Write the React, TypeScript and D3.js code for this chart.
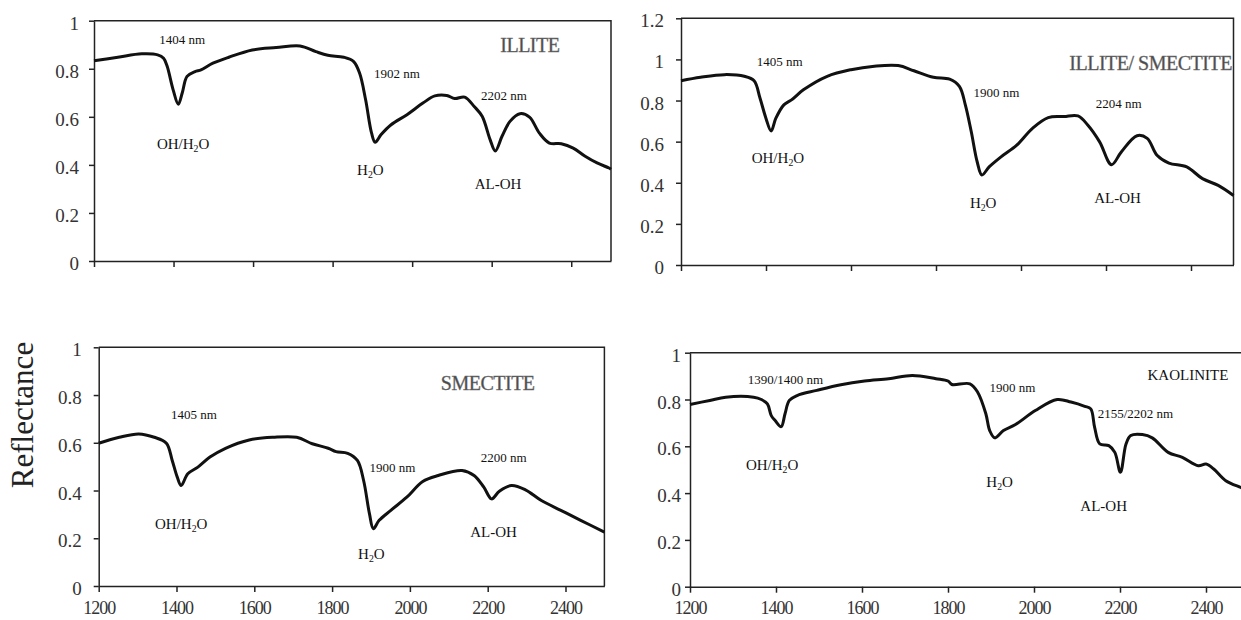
import { useEffect, useRef } from 'react'
import * as d3 from 'd3'

// Reflectance spectra of four clay minerals

const illiteWl = [1200, 1260, 1320, 1360, 1375, 1384, 1399, 1412, 1422, 1434, 1454, 1469, 1499, 1539, 1598, 1658, 1718, 1758, 1788, 1828, 1853, 1868, 1883, 1898, 1907, 1922, 1947, 1987, 2027, 2057, 2087, 2107, 2132, 2156, 2176, 2196, 2209, 2226, 2246, 2271, 2295, 2320, 2345, 2375, 2405, 2435, 2465, 2495, 2500]
const illiteR = [0.833, 0.848, 0.862, 0.858, 0.844, 0.81, 0.712, 0.652, 0.7, 0.768, 0.788, 0.795, 0.823, 0.848, 0.878, 0.888, 0.895, 0.871, 0.856, 0.848, 0.83, 0.781, 0.671, 0.532, 0.494, 0.526, 0.567, 0.609, 0.657, 0.687, 0.689, 0.676, 0.682, 0.643, 0.602, 0.505, 0.458, 0.519, 0.581, 0.613, 0.599, 0.532, 0.491, 0.488, 0.47, 0.436, 0.408, 0.387, 0.382]

const illSmeWl = [1200, 1246, 1302, 1349, 1372, 1386, 1400, 1412, 1423, 1442, 1460, 1488, 1544, 1600, 1655, 1711, 1748, 1794, 1832, 1855, 1869, 1883, 1897, 1908, 1925, 1953, 1990, 2027, 2064, 2101, 2134, 2157, 2185, 2213, 2236, 2273, 2297, 2320, 2348, 2390, 2427, 2464, 2500]
const illSmeR = [0.896, 0.913, 0.926, 0.918, 0.896, 0.811, 0.713, 0.652, 0.713, 0.779, 0.803, 0.852, 0.918, 0.95, 0.967, 0.97, 0.945, 0.913, 0.904, 0.869, 0.779, 0.648, 0.501, 0.438, 0.477, 0.526, 0.583, 0.665, 0.717, 0.722, 0.725, 0.681, 0.599, 0.488, 0.55, 0.629, 0.616, 0.534, 0.496, 0.477, 0.42, 0.387, 0.338]

const smectiteWl = [1200, 1253, 1303, 1343, 1374, 1389, 1402, 1412, 1429, 1455, 1486, 1526, 1587, 1648, 1709, 1749, 1790, 1810, 1840, 1865, 1881, 1896, 1906, 1921, 1951, 1992, 2033, 2073, 2134, 2165, 2190, 2210, 2230, 2261, 2297, 2338, 2388, 2439, 2500]
const smectiteR = [0.598, 0.623, 0.637, 0.623, 0.598, 0.526, 0.456, 0.421, 0.47, 0.498, 0.54, 0.577, 0.612, 0.623, 0.623, 0.596, 0.577, 0.563, 0.556, 0.526, 0.442, 0.303, 0.24, 0.275, 0.317, 0.372, 0.438, 0.463, 0.484, 0.463, 0.414, 0.365, 0.397, 0.421, 0.403, 0.358, 0.317, 0.275, 0.226]

const kaoliniteWl = [1200, 1246, 1283, 1348, 1366, 1380, 1389, 1398, 1412, 1421, 1431, 1449, 1495, 1551, 1606, 1662, 1717, 1772, 1800, 1809, 1851, 1869, 1888, 1897, 1909, 1929, 1957, 2003, 2054, 2086, 2118, 2132, 2141, 2153, 2174, 2188, 2201, 2214, 2225, 2252, 2275, 2312, 2345, 2382, 2400, 2418, 2446, 2481, 2500]
const kaoliniteR = [0.779, 0.796, 0.81, 0.81, 0.8, 0.781, 0.731, 0.71, 0.684, 0.739, 0.796, 0.817, 0.839, 0.863, 0.879, 0.889, 0.903, 0.889, 0.879, 0.864, 0.867, 0.831, 0.739, 0.667, 0.636, 0.667, 0.693, 0.753, 0.8, 0.789, 0.771, 0.76, 0.681, 0.61, 0.603, 0.574, 0.489, 0.61, 0.646, 0.65, 0.636, 0.574, 0.553, 0.517, 0.524, 0.503, 0.453, 0.424, 0.41]

const xTicks = [1200, 1400, 1600, 1800, 2000, 2200, 2400]
const yTicks = [0, 0.2, 0.4, 0.6, 0.8, 1]
const yTicksWide = [0, 0.2, 0.4, 0.6, 0.8, 1, 1.2]

// annotations: [text, wavelength, reflectance, kind]
type Note = [string, number, number, 'nm' | 'chem' | 'title' | 'small']
const illiteNotes: Note[] = [
  ['1404 nm', 1422, 0.92, 'nm'], ['1902 nm', 1962, 0.779, 'nm'], ['2202 nm', 2231, 0.689, 'nm'],
  ['OH/H₂O', 1424, 0.487, 'chem'], ['H₂O', 1895, 0.378, 'chem'], ['AL-OH', 2216, 0.321, 'chem'],
  ['ILLITE', 2296, 0.899, 'title'],
]
const illSmeNotes: Note[] = [
  ['1405 nm', 1432, 0.988, 'nm'], ['1900 nm', 1942, 0.841, 'nm'], ['2204 nm', 2230, 0.787, 'nm'],
  ['OH/H₂O', 1428, 0.521, 'chem'], ['H₂O', 1911, 0.305, 'chem'], ['AL-OH', 2227, 0.325, 'chem'],
  ['ILLITE/ SMECTITE', 2305, 0.983, 'title'],
]
const smectiteNotes: Note[] = [
  ['1405 nm', 1445, 0.718, 'nm'], ['1900 nm', 1955, 0.498, 'nm'], ['2200 nm', 2241, 0.54, 'nm'],
  ['OH/H₂O', 1412, 0.261, 'chem'], ['H₂O', 1901, 0.135, 'chem'], ['AL-OH', 2215, 0.226, 'chem'],
  ['SMECTITE', 2200, 0.851, 'title'],
]
const kaoliniteNotes: Note[] = [
  ['1390/1400 nm', 1422, 0.886, 'nm'], ['1900 nm', 1950, 0.853, 'nm'], ['2155/2202 nm', 2236, 0.741, 'nm'],
  ['OH/H₂O', 1391, 0.521, 'chem'], ['H₂O', 1920, 0.45, 'chem'], ['AL-OH', 2162, 0.346, 'chem'],
  ['KAOLINITE', 2358, 0.906, 'small'],
]

const panels = [
  { wl: illiteWl, r: illiteR, notes: illiteNotes, yTicks, yMax: 1, x0: 94, x1: 611, top: 20.7, bottom: 261, yPad: 10, showX: false },
  { wl: illSmeWl, r: illSmeR, notes: illSmeNotes, yTicks: yTicksWide, yMax: 1.2, x0: 681, x1: 1233.5, top: 18.3, bottom: 265, yPad: 12, showX: false },
  { wl: smectiteWl, r: smectiteR, notes: smectiteNotes, yTicks, yMax: 1, x0: 98.7, x1: 604.4, top: 347.3, bottom: 586, yPad: 12, showX: true },
  { wl: kaoliniteWl, r: kaoliniteR, notes: kaoliniteNotes, yTicks, yMax: 1, x0: 690, x1: 1249, top: 352.7, bottom: 586.7, yPad: 4, showX: true },
]

const FONT = '"Liberation Serif", "Times New Roman", serif'

export default function App() {
  const svgRef = useRef<SVGSVGElement>(null)

  useEffect(() => {
    if (!svgRef.current) return
    const svg = d3.select(svgRef.current)
    svg.selectAll('*').remove()

    panels.forEach(p => {
      const x = d3.scaleLinear().domain([1200, 2500]).range([p.x0, p.x1])
      const y = d3.scaleLinear().domain([0, p.yMax]).range([p.bottom, p.top])
      const g = svg.append('g')

      // plot area frame (top + right)
      g.append('path')
        .attr('d', `M${p.x0},${p.top}H${p.x1}V${p.bottom}`)
        .attr('fill', 'none')
        .attr('stroke', '#222')
        .attr('stroke-width', 1.5)

      // y axis
      g.append('g')
        .attr('transform', `translate(${p.x0},0)`)
        .call(d3.axisLeft(y).tickValues(p.yTicks).tickSize(5).tickSizeOuter(0)
          .tickPadding(p.yPad).tickFormat(d => String(d)))
        .call(ax => {
          ax.attr('font-family', FONT)
          ax.selectAll('text').attr('fill', '#333').attr('font-size', '19px')
            .attr('font-family', FONT).attr('dy', '0.45em')
          ax.selectAll('line, path').attr('stroke', '#222').attr('stroke-width', 1.5)
        })

      // x axis
      g.append('g')
        .attr('transform', `translate(0,${p.bottom})`)
        .call(d3.axisBottom(x).tickValues(xTicks).tickSize(6).tickSizeOuter(0)
          .tickPadding(9).tickFormat(d => (p.showX ? String(d) : '')))
        .call(ax => {
          ax.attr('font-family', FONT)
          ax.selectAll('text').attr('fill', '#333').attr('font-size', '18px')
            .attr('font-family', FONT).attr('letter-spacing', '-1px')
          ax.selectAll('line, path').attr('stroke', '#222').attr('stroke-width', 1.5)
        })

      // spectrum
      const line = d3.line<number>()
        .x((_, i) => x(p.wl[i]))
        .y(d => y(d))
        .curve(d3.curveCatmullRom.alpha(0.5))
      g.append('path')
        .datum(p.r)
        .attr('d', line)
        .attr('fill', 'none')
        .attr('stroke', '#111')
        .attr('stroke-width', 3)
        .attr('stroke-linejoin', 'round')

      // annotations
      p.notes.forEach(([label, wl, r, kind]) => {
        const size = kind === 'nm' ? 13 : kind === 'chem' ? 15 : kind === 'title' ? 20 : 15
        const t = g.append('text')
          .attr('x', x(wl))
          .attr('y', y(r) + size * 0.35)
          .attr('text-anchor', 'middle')
          .attr('font-family', FONT)
          .attr('font-size', size)
          .attr('fill', kind === 'title' ? '#4a4a4a' : '#111')
        if (kind === 'title') t.attr('letter-spacing', '-0.5px').attr('stroke', '#777').attr('stroke-width', 0.4)
        const parts = label.split('₂')
        if (parts.length === 1) {
          t.text(label)
        } else {
          t.append('tspan').text(parts[0])
          t.append('tspan').attr('font-size', size * 0.65).attr('dy', 3).text('2')
          t.append('tspan').attr('dy', -3).text(parts[1])
        }
      })
    })

    // shared y label
    svg.append('text')
      .attr('transform', 'translate(33,415) rotate(-90)')
      .attr('text-anchor', 'middle')
      .attr('font-family', FONT)
      .attr('font-size', 31)
      .attr('fill', '#222')
      .text('Reflectance')
  }, [])

  return (
    <svg
      ref={svgRef}
      width={1241}
      height={620}
      style={{ position: 'absolute', left: 0, top: 0, background: '#fff' }}
    />
  )
}
